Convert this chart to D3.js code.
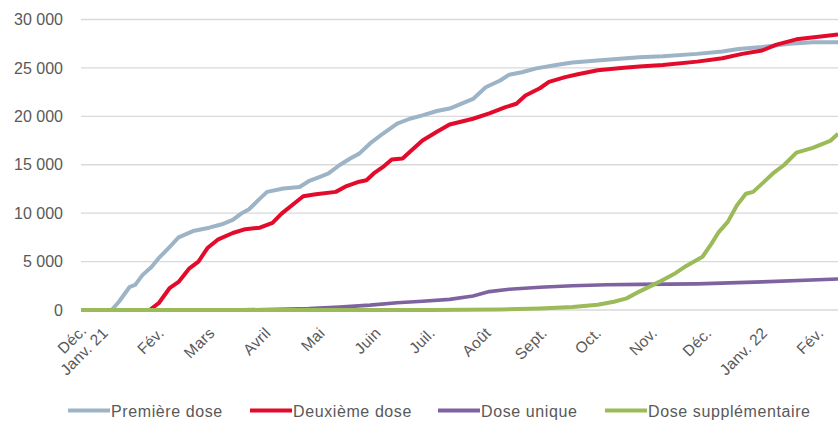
<!DOCTYPE html>
<html>
<head>
<meta charset="utf-8">
<script src="https://cdn.jsdelivr.net/npm/d3@7/dist/d3.min.js"></script>
<style>
  html, body { margin: 0; padding: 0; background: #fff; }
  svg { display: block; font-family: "Liberation Sans", Arial, Helvetica, sans-serif; }
</style>
</head>
<body>
<svg id="chart" width="838" height="421"></svg>
<script>
// ---------- DATA ----------
const seriesNames = ["Première dose", "Deuxième dose", "Dose unique", "Dose supplémentaire"];
const seriesColors = ["#9DB3C6", "#E30B2B", "#7F63A1", "#9BBB59"];

const premiereDose = [
  ["2020-12-19", 0], ["2021-01-05", 0], ["2021-01-09", 850], ["2021-01-15", 2400], ["2021-01-18", 2600],
  ["2021-01-22", 3600], ["2021-01-27", 4450], ["2021-01-31", 5350], ["2021-02-06", 6500], ["2021-02-11", 7500],
  ["2021-02-19", 8150], ["2021-02-28", 8500], ["2021-03-07", 8850], ["2021-03-13", 9300], ["2021-03-18", 10000],
  ["2021-03-22", 10400], ["2021-03-28", 11500], ["2021-04-01", 12200], ["2021-04-10", 12550], ["2021-04-19", 12700],
  ["2021-04-24", 13300], ["2021-05-01", 13800], ["2021-05-05", 14100], ["2021-05-11", 14950], ["2021-05-17", 15650],
  ["2021-05-22", 16150], ["2021-05-28", 17200], ["2021-06-04", 18200], ["2021-06-12", 19250], ["2021-06-19", 19750],
  ["2021-06-26", 20100], ["2021-07-04", 20550], ["2021-07-11", 20800], ["2021-07-24", 21800], ["2021-07-31", 23000],
  ["2021-08-08", 23700], ["2021-08-13", 24300], ["2021-08-20", 24550], ["2021-08-28", 24950], ["2021-09-08", 25300],
  ["2021-09-17", 25550], ["2021-10-06", 25850], ["2021-10-24", 26100], ["2021-11-06", 26200], ["2021-11-25", 26450],
  ["2021-12-09", 26700], ["2021-12-18", 26950], ["2021-12-31", 27150], ["2022-01-15", 27500], ["2022-01-28", 27650],
  ["2022-02-11", 27650]
];

const deuxiemeDose = [
  ["2020-12-19", 0], ["2021-01-26", 0], ["2021-01-31", 700], ["2021-02-06", 2250], ["2021-02-11", 2900],
  ["2021-02-17", 4300], ["2021-02-22", 5000], ["2021-02-27", 6400], ["2021-03-05", 7300], ["2021-03-13", 7950],
  ["2021-03-20", 8350], ["2021-03-28", 8500], ["2021-04-04", 9000], ["2021-04-09", 9950], ["2021-04-16", 11000],
  ["2021-04-21", 11750], ["2021-04-28", 11950], ["2021-05-09", 12200], ["2021-05-15", 12800], ["2021-05-22", 13250],
  ["2021-05-26", 13400], ["2021-05-30", 14100], ["2021-06-04", 14750], ["2021-06-09", 15550], ["2021-06-15", 15650],
  ["2021-06-20", 16500], ["2021-06-26", 17500], ["2021-07-04", 18400], ["2021-07-11", 19150], ["2021-07-24", 19750],
  ["2021-08-02", 20300], ["2021-08-11", 20950], ["2021-08-17", 21300], ["2021-08-22", 22150], ["2021-08-30", 22900],
  ["2021-09-04", 23550], ["2021-09-13", 24050], ["2021-09-20", 24350], ["2021-10-01", 24750], ["2021-10-14", 25000],
  ["2021-10-24", 25150], ["2021-11-06", 25300], ["2021-11-25", 25650], ["2021-12-09", 26000], ["2021-12-20", 26450],
  ["2021-12-31", 26800], ["2022-01-08", 27400], ["2022-01-19", 27950], ["2022-01-30", 28200], ["2022-02-11", 28450]
];

const doseUnique = [
  ["2020-12-19", 0], ["2021-03-11", 0], ["2021-04-01", 50], ["2021-04-24", 150], ["2021-05-11", 300],
  ["2021-05-28", 500], ["2021-06-12", 750], ["2021-06-26", 900], ["2021-07-11", 1100], ["2021-07-24", 1450],
  ["2021-08-02", 1900], ["2021-08-13", 2150], ["2021-08-30", 2350], ["2021-09-17", 2500], ["2021-10-06", 2600],
  ["2021-10-24", 2650], ["2021-11-25", 2700], ["2021-12-31", 2900], ["2022-02-11", 3200]
];

const doseSupplementaire = [
  ["2020-12-19", 0], ["2021-07-01", 0], ["2021-08-08", 50], ["2021-08-30", 150], ["2021-09-17", 300],
  ["2021-10-01", 550], ["2021-10-10", 850], ["2021-10-17", 1200], ["2021-10-24", 1900], ["2021-11-04", 2900],
  ["2021-11-13", 3800], ["2021-11-19", 4550], ["2021-11-28", 5500], ["2021-12-03", 6850], ["2021-12-07", 8050],
  ["2021-12-12", 9100], ["2021-12-17", 10800], ["2021-12-22", 12000], ["2021-12-26", 12200], ["2021-12-31", 13050],
  ["2022-01-06", 14100], ["2022-01-12", 14950], ["2022-01-19", 16250], ["2022-01-28", 16750], ["2022-02-07", 17500],
  ["2022-02-11", 18200]
];

const yTicks = [0, 5000, 10000, 15000, 20000, 25000, 30000];
const monthTickDates = ["2021-01-01", "2021-02-01", "2021-03-01", "2021-04-01", "2021-05-01", "2021-06-01", "2021-07-01",
  "2021-08-01", "2021-09-01", "2021-10-01", "2021-11-01", "2021-12-01", "2022-01-01", "2022-02-01"];
const monthLabels = ["Déc.|Janv. 21", "Fév.", "Mars", "Avril", "Mai", "Juin", "Juil.", "Août", "Sept.", "Oct.", "Nov.", "Déc.", "Janv. 22", "Fév."];
const xDomain = ["2020-12-19", "2022-02-11"];

// ---------- CHART ----------
(function () {
const parse = d3.utcParse("%Y-%m-%d");
const svg = d3.select("#chart");
const mLeft = 81, mRight = 838, mTop = 19.5, mBottom = 310;

const x = d3.scaleUtc().domain(xDomain.map(parse)).range([mLeft, mRight]);
const y = d3.scaleLinear().domain([0, 30000]).range([mBottom, mTop]);

const fr = d3.formatLocale({ decimal: ",", thousands: " ", grouping: [3], currency: ["", " €"] });
const fmt = fr.format(",d");

// gridlines
svg.append("g").selectAll("line").data(yTicks).join("line")
  .attr("x1", mLeft).attr("x2", mRight)
  .attr("y1", d => y(d)).attr("y2", d => y(d))
  .attr("stroke", "#D9D9D9").attr("stroke-width", 1.3);

// y axis labels
const yAxis = d3.axisLeft(y).tickValues(yTicks).tickFormat(fmt).tickSize(0).tickPadding(0);
const gy = svg.append("g").attr("transform", `translate(63,0)`).call(yAxis);
gy.select(".domain").remove();
gy.selectAll("text").attr("fill", "#595959").attr("font-size", 16)
  .attr("font-family", "'Liberation Sans', Arial, sans-serif");

// x labels
const xl = svg.append("g");
monthTickDates.forEach((ds, i) => {
  const g = xl.append("g").attr("transform", `translate(${x(parse(ds)) + 4.5},334) rotate(-45)`);
  const parts = monthLabels[i].split("|");
  const style = t => t.attr("fill", "#595959").attr("font-size", 15.5).attr("letter-spacing", 0.3);
  if (parts.length === 1) {
    style(g.append("text").attr("text-anchor", "end").text(parts[0]));
  } else {
    const last = style(g.append("text").attr("text-anchor", "end").text(parts[1]));
    const w = last.node().getComputedTextLength();
    style(g.append("text").attr("text-anchor", "middle").attr("x", -w / 2).attr("y", -17).text(parts[0]));
  }
});

// lines
const line = d3.line().x(d => x(parse(d[0]))).y(d => y(d[1])).curve(d3.curveLinear);
const allSeries = [premiereDose, deuxiemeDose, doseUnique, doseSupplementaire];
const plot = svg.append("g");
allSeries.forEach((s, i) => {
  plot.append("path").datum(s).attr("d", line)
    .attr("fill", "none").attr("stroke", seriesColors[i])
    .attr("stroke-width", i === 2 ? 3.6 : 4).attr("stroke-linejoin", "round");
});

// legend
const legendX = [68, 250, 438, 605];
const lg = svg.append("g");
seriesNames.forEach((n, i) => {
  lg.append("line").attr("x1", legendX[i]).attr("x2", legendX[i] + 42)
    .attr("y1", 410.5).attr("y2", 410.5)
    .attr("stroke", seriesColors[i]).attr("stroke-width", 4);
  lg.append("text").attr("x", legendX[i] + 43).attr("y", 416.5)
    .attr("fill", "#595959").attr("font-size", 16).attr("letter-spacing", 0.6).text(n);
});
})();
</script>
</body>
</html>
